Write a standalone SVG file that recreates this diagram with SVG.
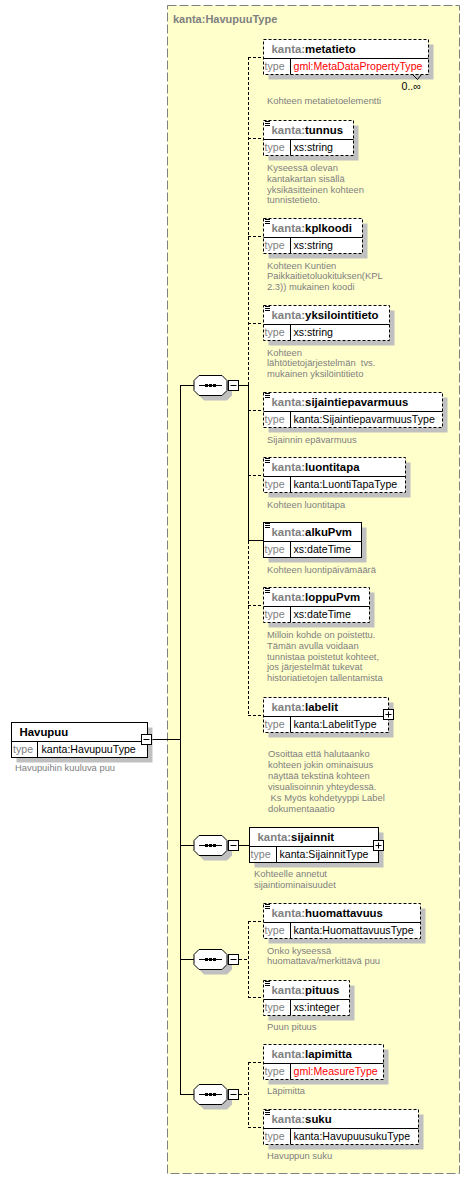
<svg xmlns="http://www.w3.org/2000/svg" width="470" height="1179" viewBox="0 0 470 1179">
<style>
text{font-family:"Liberation Sans",Arial,sans-serif}
.nm{font-size:11.4px;font-weight:bold;fill:#000}
.ns{fill:#808080}
.ty{font-size:10.6px;fill:#000}
.tl{font-size:10.6px;fill:#808080}
.red{fill:#ff0000}
.ds{font-size:9.4px;fill:#808080}
.sh{fill:#c0c0c0}
.bx{fill:#fff;stroke:#000;stroke-width:1}
.opt{stroke-dasharray:3,2}
.ln{stroke:#000;stroke-width:1;fill:none}
.dl{stroke:#000;stroke-width:1;fill:none;stroke-dasharray:3,2}
.ic{stroke:#000;stroke-width:1}
</style>
<defs>
<g id="seq">
<polygon points="10,-5 33,-5 38,0 38,10 33,15 10,15 5,10 5,0" fill="#c0c0c0"/>
<polygon points="5,-10 28,-10 33,-5 33,5 28,10 5,10 0,5 0,-5" fill="#fff" stroke="#000"/>
<line x1="5" y1="0" x2="28" y2="0" stroke="#000"/>
<rect x="11" y="-1.5" width="3" height="3" fill="#000"/>
<rect x="15" y="-1.5" width="3" height="3" fill="#000"/>
<rect x="19" y="-1.5" width="3" height="3" fill="#000"/>
<rect x="34.5" y="-5" width="10" height="10" fill="#fff" stroke="#000"/>
<line x1="36.5" y1="0" x2="42.5" y2="0" stroke="#000"/>
</g>
<g id="doc">
<line x1="1.5" y1="1" x2="6.5" y2="1" class="ic"/>
<line x1="1.5" y1="3" x2="6.5" y2="3" class="ic"/>
<line x1="1.5" y1="5" x2="6.5" y2="5" class="ic"/>
</g>
</defs>

<rect x="167.5" y="5.5" width="292" height="1168" fill="#ffffcc" stroke="#808080" stroke-dasharray="9,3"/>
<text x="173" y="23" font-size="11px" font-weight="bold" fill="#808080">kanta:HavupuuType</text>

<g id="connectors">
<line x1="152" y1="739.5" x2="180" y2="739.5" class="ln"/>
<line x1="180.5" y1="385" x2="180.5" y2="1094" class="ln"/>
<line x1="180" y1="385.5" x2="194" y2="385.5" class="ln"/>
<line x1="180" y1="845.5" x2="194" y2="845.5" class="ln"/>
<line x1="180" y1="959.5" x2="194" y2="959.5" class="ln"/>
<line x1="180" y1="1094.5" x2="194" y2="1094.5" class="ln"/>
<line x1="239" y1="385.5" x2="248" y2="385.5" class="ln"/>
<line x1="248.5" y1="57" x2="248.5" y2="385" class="dl"/>
<line x1="248.5" y1="385" x2="248.5" y2="541" class="ln"/>
<line x1="248.5" y1="541" x2="248.5" y2="715" class="dl"/>
<line x1="248" y1="57.5" x2="263" y2="57.5" class="dl"/>
<line x1="248" y1="138.5" x2="263" y2="138.5" class="dl"/>
<line x1="248" y1="236.5" x2="263" y2="236.5" class="dl"/>
<line x1="248" y1="323.5" x2="263" y2="323.5" class="dl"/>
<line x1="248" y1="410.5" x2="263" y2="410.5" class="dl"/>
<line x1="248" y1="475.5" x2="263" y2="475.5" class="dl"/>
<line x1="248" y1="540.5" x2="263" y2="540.5" class="ln"/>
<line x1="248" y1="605.5" x2="263" y2="605.5" class="dl"/>
<line x1="248" y1="715.5" x2="263" y2="715.5" class="dl"/>
<line x1="239" y1="845.5" x2="249" y2="845.5" class="ln"/>
<line x1="239" y1="959.5" x2="248" y2="959.5" class="dl"/>
<line x1="248.5" y1="921" x2="248.5" y2="998" class="dl"/>
<line x1="248" y1="921.5" x2="263" y2="921.5" class="dl"/>
<line x1="248" y1="997.5" x2="263" y2="997.5" class="dl"/>
<line x1="239" y1="1094.5" x2="248" y2="1094.5" class="dl"/>
<line x1="248.5" y1="1062" x2="248.5" y2="1127" class="dl"/>
<line x1="248" y1="1062.5" x2="263" y2="1062.5" class="dl"/>
<line x1="248" y1="1127.5" x2="263" y2="1127.5" class="dl"/>
</g>

<g id="seq1" transform="translate(194,385.5)"><use href="#seq"/></g>
<g id="seq2" transform="translate(194,845.5)"><use href="#seq"/></g>
<g id="seq3" transform="translate(194,959.5)"><use href="#seq"/></g>
<g id="seq4" transform="translate(194,1094.5)"><use href="#seq"/></g>

<g id="havupuu" transform="translate(11.5,722.5)">
<rect x="5" y="5" width="136" height="35" class="sh"/>
<rect x="0" y="0" width="136" height="35" class="bx"/>
<line x1="0" y1="19" x2="136" y2="19" class="ln"/>
<line x1="26" y1="19" x2="26" y2="35" class="ln"/>
<text x="8" y="13" class="nm">Havupuu</text>
<text x="1.5" y="30.5" class="tl">type</text>
<text x="30" y="30.5" class="ty">kanta:HavupuuType</text>
<rect x="130" y="12" width="10" height="10" class="bx"/>
<line x1="132" y1="17" x2="138" y2="17" class="ln"/>
<text x="3.5" y="48" class="ds">Havupuihin kuuluva puu</text>
</g>

<g id="metatieto" transform="translate(263.5,39.5)">
<rect x="5" y="5" width="165" height="35" class="sh"/>
<rect x="0" y="0" width="165" height="35" class="bx opt"/>
<line x1="0" y1="19" x2="165" y2="19" class="ln"/>
<line x1="27" y1="19" x2="27" y2="35" class="ln"/>
<text x="8" y="13.5" class="nm"><tspan class="ns">kanta:</tspan>metatieto</text>
<text x="1" y="30.5" class="tl">type</text>
<text x="30" y="30.5" class="ty red">gml:MetaDataPropertyType</text>
<polyline points="149,35 154,40 158,35" class="ln" stroke="#808080"/>
<text x="138" y="50.5" class="ty">0..∞</text>
<text x="3.5" y="64.5" class="ds">Kohteen metatietoelementti</text>
</g>

<g id="tunnus" transform="translate(263.5,120.5)">
<rect x="5" y="5" width="90" height="35" class="sh"/>
<rect x="0" y="0" width="90" height="35" class="bx opt"/>
<use href="#doc"/>
<line x1="0" y1="19" x2="90" y2="19" class="ln"/>
<line x1="27" y1="19" x2="27" y2="35" class="ln"/>
<text x="8" y="13.5" class="nm"><tspan class="ns">kanta:</tspan>tunnus</text>
<text x="1" y="30.5" class="tl">type</text>
<text x="30" y="30.5" class="ty">xs:string</text>
<text class="ds"><tspan x="3.5" y="50.5">Kyseessä olevan</tspan><tspan x="3.5" y="61.3">kantakartan sisällä</tspan><tspan x="3.5" y="72.1">yksikäsitteinen kohteen</tspan><tspan x="3.5" y="82.9">tunnistetieto.</tspan></text>
</g>

<g id="kplkoodi" transform="translate(263.5,218.5)">
<rect x="5" y="5" width="99" height="35" class="sh"/>
<rect x="0" y="0" width="99" height="35" class="bx opt"/>
<use href="#doc"/>
<line x1="0" y1="19" x2="99" y2="19" class="ln"/>
<line x1="27" y1="19" x2="27" y2="35" class="ln"/>
<text x="8" y="13.5" class="nm"><tspan class="ns">kanta:</tspan>kplkoodi</text>
<text x="1" y="30.5" class="tl">type</text>
<text x="30" y="30.5" class="ty">xs:string</text>
<text class="ds"><tspan x="3.5" y="50">Kohteen Kuntien</tspan><tspan x="3.5" y="60.8">Paikkaitietoluokituksen(KPL</tspan><tspan x="3.5" y="71.6">2.3)) mukainen koodi</tspan></text>
</g>

<g id="yksilointitieto" transform="translate(263.5,305.5)">
<rect x="5" y="5" width="126" height="35" class="sh"/>
<rect x="0" y="0" width="126" height="35" class="bx opt"/>
<use href="#doc"/>
<line x1="0" y1="19" x2="126" y2="19" class="ln"/>
<line x1="27" y1="19" x2="27" y2="35" class="ln"/>
<text x="8" y="13.5" class="nm"><tspan class="ns">kanta:</tspan>yksilointitieto</text>
<text x="1" y="30.5" class="tl">type</text>
<text x="30" y="30.5" class="ty">xs:string</text>
<text class="ds" xml:space="preserve"><tspan x="3.5" y="50">Kohteen</tspan><tspan x="3.5" y="60.8">lähtötietojärjestelmän  tvs.</tspan><tspan x="3.5" y="71.6">mukainen yksilöintitieto</tspan></text>
</g>

<g id="sijaintiepavarmuus" transform="translate(263.5,392.5)">
<rect x="5" y="5" width="179" height="35" class="sh"/>
<rect x="0" y="0" width="179" height="35" class="bx opt"/>
<use href="#doc"/>
<line x1="0" y1="19" x2="179" y2="19" class="ln"/>
<line x1="27" y1="19" x2="27" y2="35" class="ln"/>
<text x="8" y="13.5" class="nm"><tspan class="ns">kanta:</tspan>sijaintiepavarmuus</text>
<text x="1" y="30.5" class="tl">type</text>
<text x="30" y="30.5" class="ty">kanta:SijaintiepavarmuusType</text>
<text x="3.5" y="50" class="ds">Sijainnin epävarmuus</text>
</g>

<g id="luontitapa" transform="translate(263.5,457.5)">
<rect x="5" y="5" width="142" height="35" class="sh"/>
<rect x="0" y="0" width="142" height="35" class="bx opt"/>
<use href="#doc"/>
<line x1="0" y1="19" x2="142" y2="19" class="ln"/>
<line x1="27" y1="19" x2="27" y2="35" class="ln"/>
<text x="8" y="13.5" class="nm"><tspan class="ns">kanta:</tspan>luontitapa</text>
<text x="1" y="30.5" class="tl">type</text>
<text x="30" y="30.5" class="ty">kanta:LuontiTapaType</text>
<text x="3.5" y="50" class="ds">Kohteen luontitapa</text>
</g>

<g id="alkuPvm" transform="translate(263.5,522.5)">
<rect x="5" y="5" width="98" height="35" class="sh"/>
<rect x="0" y="0" width="98" height="35" class="bx"/>
<use href="#doc"/>
<line x1="0" y1="19" x2="98" y2="19" class="ln"/>
<line x1="27" y1="19" x2="27" y2="35" class="ln"/>
<text x="8" y="13.5" class="nm"><tspan class="ns">kanta:</tspan>alkuPvm</text>
<text x="1" y="30.5" class="tl">type</text>
<text x="30" y="30.5" class="ty">xs:dateTime</text>
<text x="3.5" y="50.5" class="ds">Kohteen luontipäivämäärä</text>
</g>

<g id="loppuPvm" transform="translate(263.5,587.5)">
<rect x="5" y="5" width="106" height="35" class="sh"/>
<rect x="0" y="0" width="106" height="35" class="bx opt"/>
<use href="#doc"/>
<line x1="0" y1="19" x2="106" y2="19" class="ln"/>
<line x1="27" y1="19" x2="27" y2="35" class="ln"/>
<text x="8" y="13.5" class="nm"><tspan class="ns">kanta:</tspan>loppuPvm</text>
<text x="1" y="30.5" class="tl">type</text>
<text x="30" y="30.5" class="ty">xs:dateTime</text>
<text class="ds"><tspan x="3.5" y="50.5">Milloin kohde on poistettu.</tspan><tspan x="3.5" y="61.3">Tämän avulla voidaan</tspan><tspan x="3.5" y="72.1">tunnistaa poistetut kohteet,</tspan><tspan x="3.5" y="82.9">jos järjestelmät tukevat</tspan><tspan x="3.5" y="93.7">historiatietojen tallentamista</tspan></text>
</g>

<g id="labelit" transform="translate(263.5,697.5)">
<rect x="5" y="5" width="125" height="35" class="sh"/>
<rect x="0" y="0" width="125" height="35" class="bx opt"/>
<line x1="0" y1="19" x2="125" y2="19" class="ln"/>
<line x1="27" y1="19" x2="27" y2="35" class="ln"/>
<text x="8" y="13.5" class="nm"><tspan class="ns">kanta:</tspan>labelit</text>
<text x="1" y="30.5" class="tl">type</text>
<text x="30" y="30.5" class="ty">kanta:LabelitType</text>
<rect x="120" y="12" width="10" height="10" class="bx"/>
<line x1="122" y1="17" x2="128" y2="17" class="ln"/>
<line x1="125" y1="14" x2="125" y2="20" class="ln"/>
<text class="ds" xml:space="preserve"><tspan x="4.5" y="59.5">Osoittaa että halutaanko</tspan><tspan x="4.5" y="70.5">kohteen jokin ominaisuus</tspan><tspan x="4.5" y="81.5">näyttää tekstinä kohteen</tspan><tspan x="4.5" y="92.5">visualisoinnin yhteydessä.</tspan><tspan x="4.5" y="103.5"> Ks Myös kohdetyyppi Label</tspan><tspan x="4.5" y="114.5">dokumentaaatio</tspan></text>
</g>

<g id="sijainnit" transform="translate(249.5,827.5)">
<rect x="5" y="5" width="129" height="35" class="sh"/>
<rect x="0" y="0" width="129" height="35" class="bx"/>
<line x1="0" y1="19" x2="129" y2="19" class="ln"/>
<line x1="27" y1="19" x2="27" y2="35" class="ln"/>
<text x="8" y="13.5" class="nm"><tspan class="ns">kanta:</tspan>sijainnit</text>
<text x="1" y="30.5" class="tl">type</text>
<text x="30" y="30.5" class="ty">kanta:SijainnitType</text>
<rect x="124" y="13" width="10" height="10" class="bx"/>
<line x1="126" y1="18" x2="132" y2="18" class="ln"/>
<line x1="129" y1="15" x2="129" y2="21" class="ln"/>
<text class="ds"><tspan x="4.5" y="49.5">Kohteelle annetut</tspan><tspan x="4.5" y="60.5">sijaintiominaisuudet</tspan></text>
</g>

<g id="huomattavuus" transform="translate(263.5,903.5)">
<rect x="5" y="5" width="157" height="35" class="sh"/>
<rect x="0" y="0" width="157" height="35" class="bx opt"/>
<use href="#doc"/>
<line x1="0" y1="19" x2="157" y2="19" class="ln"/>
<line x1="27" y1="19" x2="27" y2="35" class="ln"/>
<text x="8" y="13.5" class="nm"><tspan class="ns">kanta:</tspan>huomattavuus</text>
<text x="1" y="30.5" class="tl">type</text>
<text x="30" y="30.5" class="ty">kanta:HuomattavuusType</text>
<text class="ds"><tspan x="3.5" y="50">Onko kyseessä</tspan><tspan x="3.5" y="60.8">huomattava/merkittävä puu</tspan></text>
</g>

<g id="pituus" transform="translate(263.5,980.5)">
<rect x="5" y="5" width="86" height="35" class="sh"/>
<rect x="0" y="0" width="86" height="35" class="bx opt"/>
<use href="#doc"/>
<line x1="0" y1="19" x2="86" y2="19" class="ln"/>
<line x1="27" y1="19" x2="27" y2="35" class="ln"/>
<text x="8" y="13.5" class="nm"><tspan class="ns">kanta:</tspan>pituus</text>
<text x="1" y="30.5" class="tl">type</text>
<text x="30" y="30.5" class="ty">xs:integer</text>
<text x="3.5" y="49" class="ds">Puun pituus</text>
</g>

<g id="lapimitta" transform="translate(263.5,1044.5)">
<rect x="5" y="5" width="120" height="35" class="sh"/>
<rect x="0" y="0" width="120" height="35" class="bx opt"/>
<line x1="0" y1="19" x2="120" y2="19" class="ln"/>
<line x1="27" y1="19" x2="27" y2="35" class="ln"/>
<text x="8" y="13.5" class="nm"><tspan class="ns">kanta:</tspan>lapimitta</text>
<text x="1" y="30.5" class="tl">type</text>
<text x="30" y="30.5" class="ty red">gml:MeasureType</text>
<text x="3.5" y="49.5" class="ds">Läpimitta</text>
</g>

<g id="suku" transform="translate(263.5,1109.5)">
<rect x="5" y="5" width="155" height="35" class="sh"/>
<rect x="0" y="0" width="155" height="35" class="bx opt"/>
<use href="#doc"/>
<line x1="0" y1="19" x2="155" y2="19" class="ln"/>
<line x1="27" y1="19" x2="27" y2="35" class="ln"/>
<text x="8" y="13.5" class="nm"><tspan class="ns">kanta:</tspan>suku</text>
<text x="1" y="30.5" class="tl">type</text>
<text x="30" y="30.5" class="ty">kanta:HavupuusukuType</text>
<text x="3.5" y="49.5" class="ds">Havuppun suku</text>
</g>
</svg>
